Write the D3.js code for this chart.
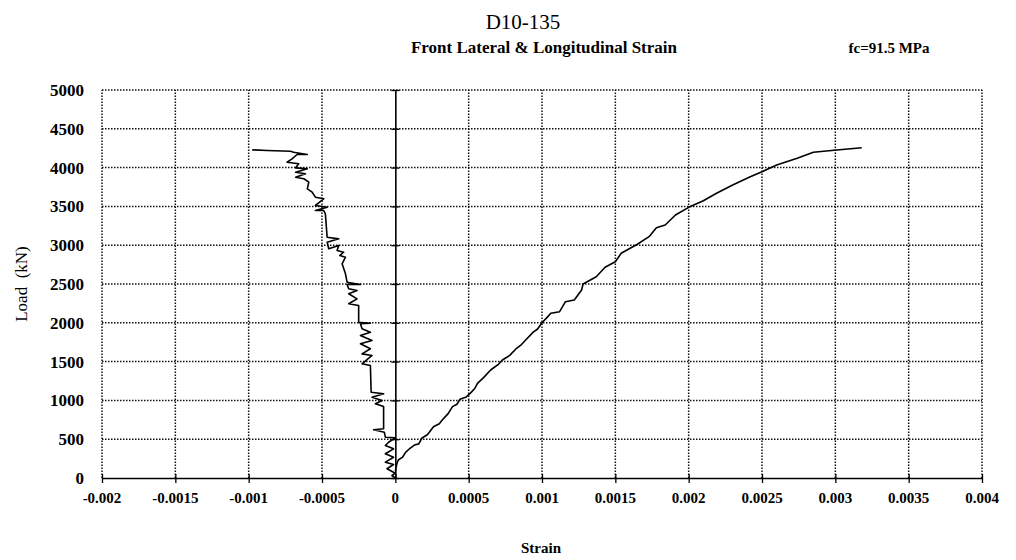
<!DOCTYPE html>
<html>
<head>
<meta charset="utf-8">
<script src="https://cdn.jsdelivr.net/npm/d3@7"></script>
<style>
  html, body { margin: 0; padding: 0; background: #fff; }
  svg { display: block; }
  text { font-family: "Liberation Serif", "Times New Roman", serif; fill: #000; }
</style>
</head>
<body>
<svg id="chart" width="1016" height="560"></svg>
<script>
// Lateral strain (negative side), listed from zero load upward: [strain, load kN]
const lateralStrain = [
  [0, 0], [-0.000023, 32], [0, 62], [-0.000057, 119], [-0.000012, 174],
  [-0.000068, 204], [-0.000012, 268], [-0.000068, 312], [-0.000012, 376],
  [-0.000068, 419], [-0.000046, 461], [0, 518], [-0.000068, 526],
  [-0.000075, 590], [-0.000148, 621], [-0.00008, 634], [-0.00008, 921],
  [-0.000136, 956], [-0.00009, 999], [-0.000159, 1041], [-0.00008, 1085],
  [-0.000165, 1106], [-0.00017, 1450], [-0.000227, 1472], [-0.000159, 1579],
  [-0.000227, 1600], [-0.00017, 1665], [-0.000238, 1729], [-0.000159, 1772],
  [-0.000238, 1836], [-0.00017, 1879], [-0.000227, 1923], [-0.000238, 1987],
  [-0.00017, 1995], [-0.00025, 2005], [-0.00025, 2072], [-0.00025, 2223],
  [-0.000318, 2245], [-0.000261, 2309], [-0.000318, 2374], [-0.000261, 2416],
  [-0.000318, 2438], [-0.000329, 2493], [-0.000238, 2493], [-0.000329, 2523],
  [-0.00034, 2631], [-0.000363, 2760], [-0.00034, 2845], [-0.000379, 2867],
  [-0.000352, 2910], [-0.000397, 2932], [-0.000386, 2996], [-0.000454, 2954],
  [-0.000465, 3039], [-0.000386, 3082], [-0.000465, 3103], [-0.000477, 3405],
  [-0.000488, 3447], [-0.000545, 3447], [-0.000465, 3490], [-0.000545, 3512],
  [-0.000488, 3598], [-0.000545, 3619], [-0.000567, 3683], [-0.0006, 3727],
  [-0.00059, 3812], [-0.000624, 3856], [-0.00068, 3876], [-0.000613, 3920],
  [-0.00068, 3941], [-0.0006, 3985], [-0.00068, 3997], [-0.000659, 4049],
  [-0.000738, 4070], [-0.000704, 4113], [-0.00067, 4169], [-0.0006, 4169],
  [-0.000693, 4198], [-0.000715, 4211], [-0.000874, 4220], [-0.000976, 4229]
];

// Longitudinal strain (positive side), listed from zero load upward: [strain, load kN]
const longitudinalStrain = [
  [0, 90], [0.00001, 180], [0.00002, 232], [0.00005, 270], [0.00007, 330],
  [0.0001, 383], [0.00013, 425], [0.00016, 440], [0.00018, 512],
  [0.00022, 560], [0.00026, 660], [0.0003, 700], [0.00032, 747],
  [0.00036, 830], [0.00039, 920], [0.00042, 950], [0.00044, 1014],
  [0.00048, 1040], [0.00051, 1091], [0.00054, 1150], [0.00056, 1220],
  [0.0006, 1290], [0.00065, 1392], [0.0007, 1460], [0.00073, 1520],
  [0.00078, 1580], [0.00082, 1660], [0.00086, 1720], [0.0009, 1800],
  [0.00094, 1880], [0.00097, 1920], [0.001, 2000], [0.00103, 2060],
  [0.00106, 2122], [0.00112, 2143], [0.00116, 2272], [0.00122, 2294],
  [0.00127, 2423], [0.00128, 2500], [0.00137, 2594], [0.00143, 2715],
  [0.0015, 2787], [0.00154, 2896], [0.00165, 3012], [0.00173, 3110],
  [0.00178, 3226], [0.00184, 3260], [0.00191, 3389], [0.002, 3488],
  [0.0021, 3573], [0.00219, 3669], [0.0023, 3776], [0.00242, 3883],
  [0.0025, 3947], [0.0026, 4034], [0.00274, 4120], [0.00285, 4197],
  [0.00301, 4227], [0.00318, 4256]
];

const xTicks = [-0.002, -0.0015, -0.001, -0.0005, 0, 0.0005, 0.001, 0.0015, 0.002, 0.0025, 0.003, 0.0035, 0.004];
const xTickLabels = ["-0.002", "-0.0015", "-0.001", "-0.0005", "0", "0.0005", "0.001", "0.0015", "0.002", "0.0025", "0.003", "0.0035", "0.004"];
const yTicks = [0, 500, 1000, 1500, 2000, 2500, 3000, 3500, 4000, 4500, 5000];

const titleText = "D10-135";
const subtitleText = "Front Lateral & Longitudinal Strain";
const strengthText = "fc=91.5 MPa";
const xTitle = "Strain";
const yTitle = "Load  (kN)";

const margin = { left: 102, right: 34, top: 90, bottom: 82 };
const W = 1016, H = 560;
const svg = d3.select("#chart");

const x = d3.scaleLinear().domain([-0.002, 0.004]).range([margin.left, W - margin.right]);
const y = d3.scaleLinear().domain([0, 5000]).range([H - margin.bottom, margin.top]);

// Dotted grid
const grid = svg.append("g").attr("stroke", "#111").attr("stroke-width", 1.5)
  .attr("stroke-dasharray", "1.5,1.5").attr("fill", "none");
grid.selectAll("line.h").data(yTicks.filter(d => d > 0)).join("line")
  .attr("class", "h")
  .attr("x1", x(-0.002)).attr("x2", x(0.004))
  .attr("y1", d => y(d)).attr("y2", d => y(d));
grid.selectAll("line.v").data(xTicks.filter(d => d !== 0)).join("line")
  .attr("class", "v")
  .attr("x1", d => x(d)).attr("x2", d => x(d))
  .attr("y1", y(0)).attr("y2", y(5000));

// Horizontal axis along zero load, with crossing ticks
const xAxis = d3.axisBottom(x).tickValues(xTicks).tickSize(0).tickFormat("");
const gx = svg.append("g").attr("transform", `translate(0,${y(0)})`).call(xAxis);
gx.select(".domain").attr("stroke", "#000").attr("stroke-width", 1.6);
gx.selectAll(".tick line").attr("y1", -4).attr("y2", 5).attr("stroke", "#000").attr("stroke-width", 1.3);

// Vertical axis at zero strain, with crossing ticks
const yAxis = d3.axisLeft(y).tickValues(yTicks).tickSize(0).tickFormat("");
const gy = svg.append("g").attr("transform", `translate(${x(0)},0)`).call(yAxis);
gy.select(".domain").attr("stroke", "#000").attr("stroke-width", 1.6);
gy.selectAll(".tick line").attr("x1", -4).attr("x2", 4).attr("stroke", "#000").attr("stroke-width", 1.3);

// Tick labels placed at the low side of the plot
svg.append("g").selectAll("text").data(yTicks).join("text")
  .attr("x", 84).attr("y", d => y(d)).attr("dy", "0.35em")
  .attr("text-anchor", "end").attr("font-size", 17).attr("font-weight", "bold")
  .text(d => d);
svg.append("g").selectAll("text").data(xTicks).join("text")
  .attr("x", d => x(d)).attr("y", y(0) + 20).attr("dy", "0.35em")
  .attr("text-anchor", "middle").attr("font-size", 15).attr("font-weight", "bold")
  .text((d, i) => xTickLabels[i]);

// Strain curves
const line = d3.line().x(d => x(d[0])).y(d => y(d[1]));
svg.append("path").datum(lateralStrain).attr("d", line)
  .attr("fill", "none").attr("stroke", "#000").attr("stroke-width", 1.6).attr("stroke-linejoin", "round");
svg.append("path").datum(longitudinalStrain).attr("d", line)
  .attr("fill", "none").attr("stroke", "#000").attr("stroke-width", 1.6).attr("stroke-linejoin", "round");

// Titles
svg.append("text").attr("x", 523).attr("y", 29).attr("text-anchor", "middle")
  .attr("font-size", 21).text(titleText);
svg.append("text").attr("x", 544).attr("y", 53).attr("text-anchor", "middle")
  .attr("font-size", 17).attr("font-weight", "bold").text(subtitleText);
svg.append("text").attr("x", 889).attr("y", 53).attr("text-anchor", "middle")
  .attr("font-size", 15).attr("font-weight", "bold").text(strengthText);
svg.append("text").attr("x", 541).attr("y", 553).attr("text-anchor", "middle")
  .attr("font-size", 15).attr("font-weight", "bold").text(xTitle);
svg.append("text").attr("transform", `translate(27,${(y(0) + y(5000)) / 2}) rotate(-90)`)
  .attr("text-anchor", "middle").attr("font-size", 17).attr("xml:space", "preserve")
  .style("white-space", "pre").text(yTitle);
</script>
</body>
</html>
